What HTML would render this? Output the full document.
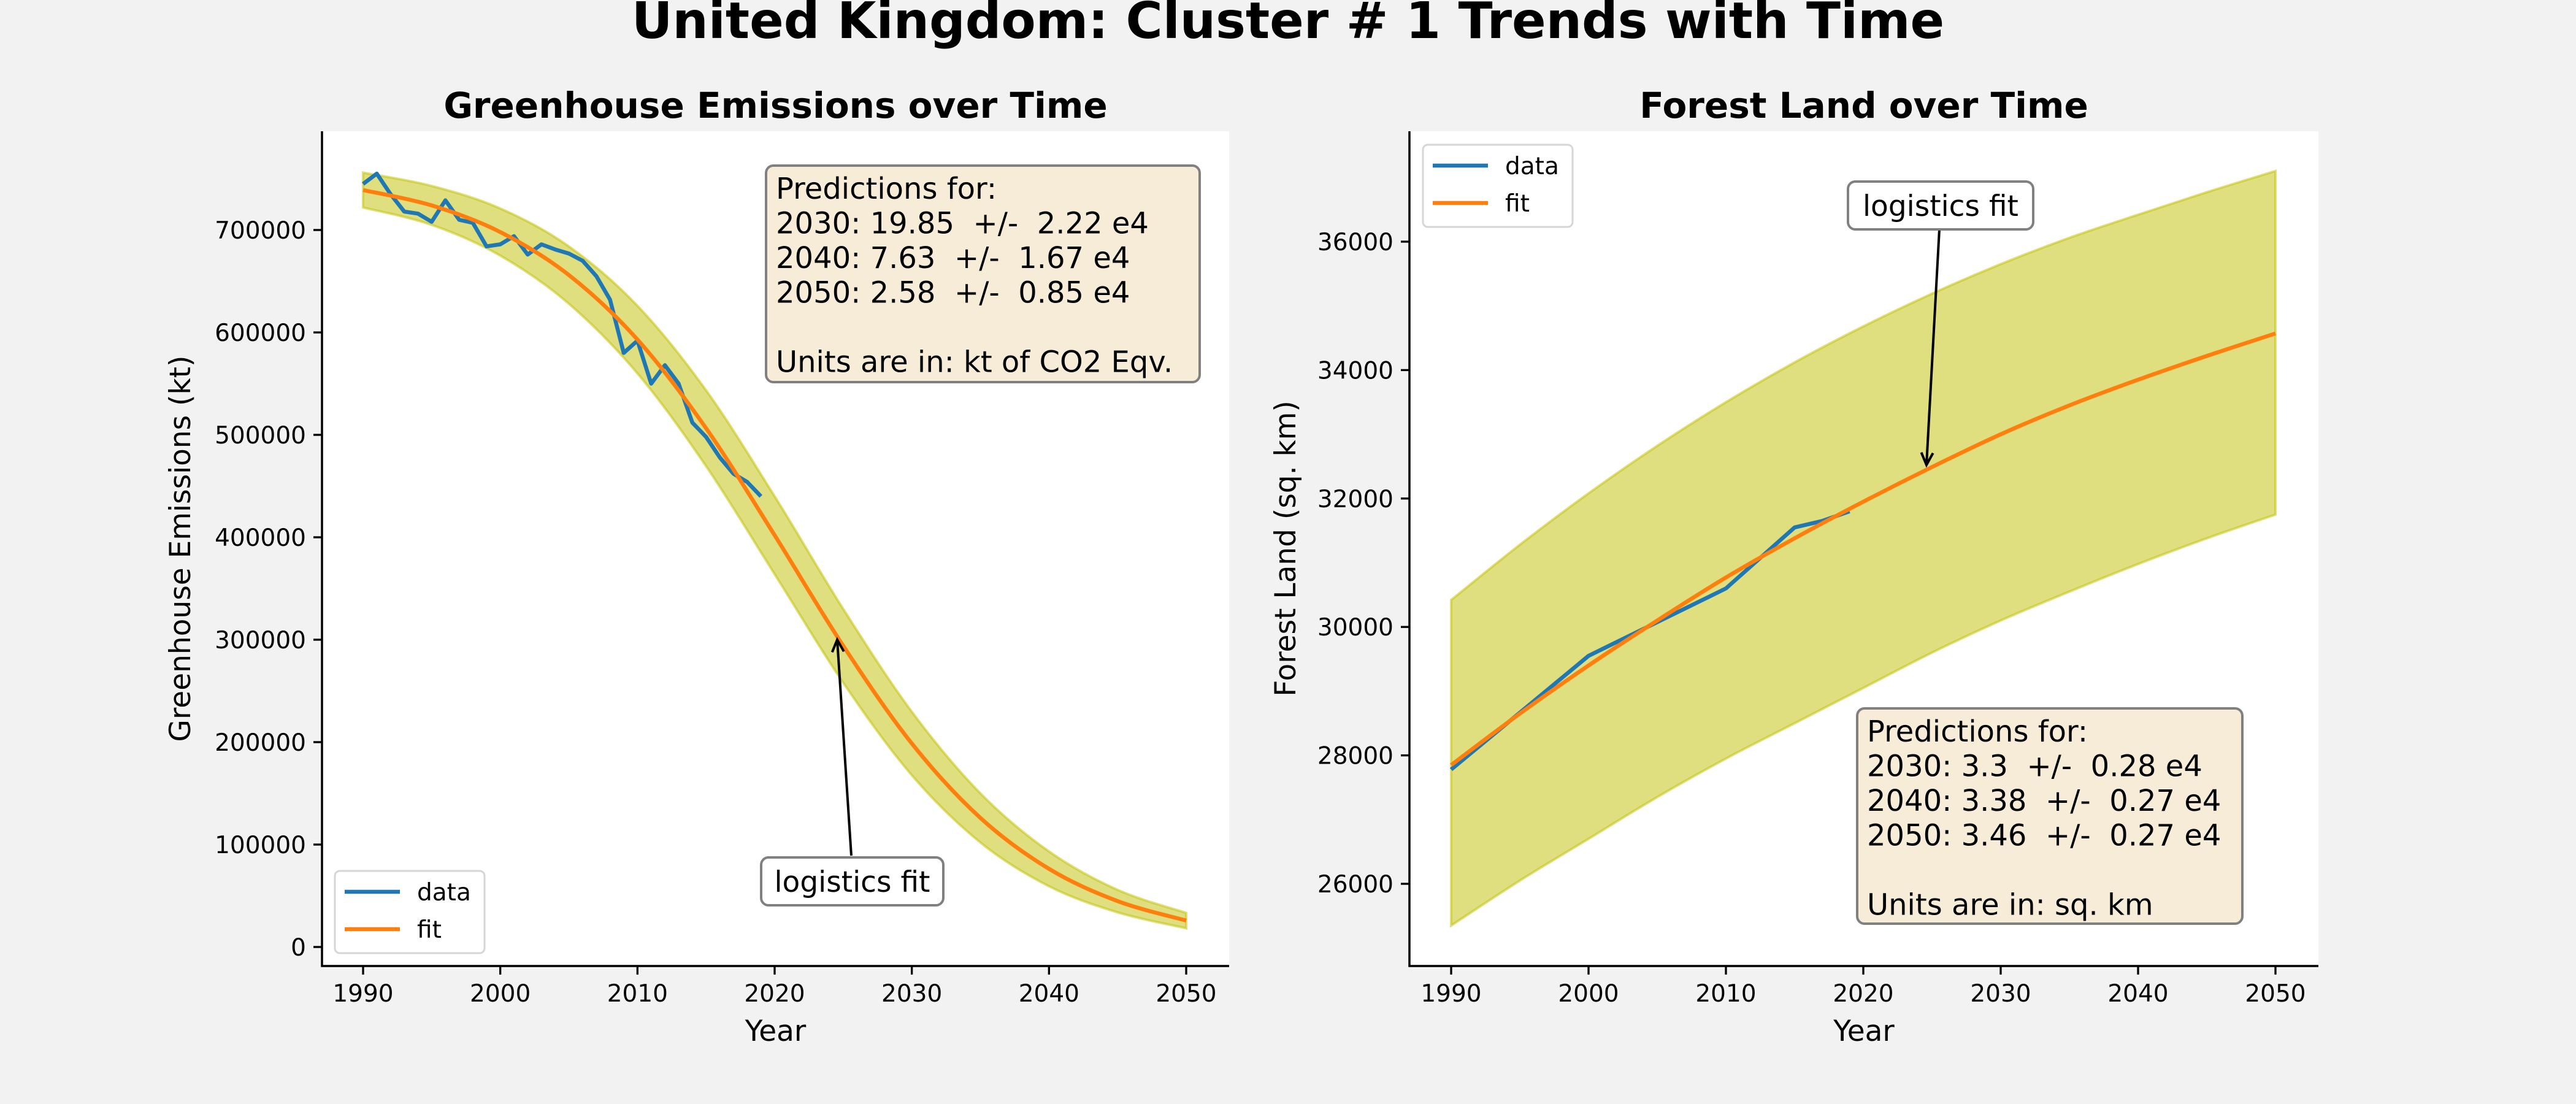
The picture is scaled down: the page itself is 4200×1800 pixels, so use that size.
<!DOCTYPE html>
<html><head><meta charset="utf-8"><style>
html,body{margin:0;padding:0;background:#f2f2f2;}
svg{display:block;font-family:"DejaVu Sans","Liberation Sans",sans-serif;}
.pre{white-space:pre;}
</style></head><body>
<svg id="fig" width="4200" height="1800" viewBox="0 0 4200 1800" xmlns="http://www.w3.org/2000/svg">
<rect x="0" y="0" width="4200" height="1800" fill="#f2f2f2"/>
<text x="2100" y="62" text-anchor="middle" font-size="82" font-weight="bold">United Kingdom: Cluster # 1 Trends with Time</text>
<g id="left"></g>
<g id="right"></g>
</svg>
<script>
// ---- Greenhouse data ----
const ghYears = [1990,1991,1992,1993,1994,1995,1996,1997,1998,1999,2000,2001,2002,2003,2004,2005,2006,2007,2008,2009,2010,2011,2012,2013,2014,2015,2016,2017,2018,2019];
const ghValues = [745000,755000,735000,718000,716000,708000,729000,710000,707000,684000,686000,694000,676000,686000,681000,677000,670000,655000,632000,580000,592000,550000,568000,550000,512000,498000,478000,462000,454000,440000];
const ghFitYears = [1990,1995,2000,2005,2010,2015,2020,2025,2030,2035,2040,2045,2050];
const ghFit = [739000,724000,698000,656000,593000,506500,402000,294000,198700,126000,76300,44800,25800];
const ghErr = [17000,19000,23000,28000,33000,37000,38000,36000,31000,24000,17000,11000,7500];
const ghYTicks = [0,100000,200000,300000,400000,500000,600000,700000];
const ghXTicks = [1990,2000,2010,2020,2030,2040,2050];
// ---- Forest data ----
const fYears = [1990,2000,2010,2015,2017,2019];
const fValues = [27780,29550,30600,31550,31650,31800];
const fFitYears = [1990,1995,2000,2005,2010,2015,2020,2025,2030,2035,2040,2045,2050];
const fFit = [27850,28650,29400,30100,30770,31380,31950,32490,33000,33450,33850,34220,34570];
const fUpper = [30420,31280,32080,32820,33500,34120,34680,35190,35650,36060,36420,36770,37100];
const fLower = [25350,26050,26700,27350,27950,28500,29050,29600,30100,30550,30980,31380,31750];
const fYTicks = [26000,28000,30000,32000,34000,36000];
const fXTicks = [1990,2000,2010,2020,2030,2040,2050];

const NS = "http://www.w3.org/2000/svg";
function mk(parent, tag, attrs, text){
  const e = document.createElementNS(NS, tag);
  for (const k in attrs) e.setAttribute(k, attrs[k]);
  if (text !== undefined) e.textContent = text;
  parent.appendChild(e);
  return e;
}
function smooth(pts){
  let d = "M" + pts[0][0] + "," + pts[0][1];
  for (let i=0;i<pts.length-1;i++){
    const p0 = pts[i-1]||pts[i], p1=pts[i], p2=pts[i+1], p3=pts[i+2]||pts[i+1];
    const c1x=p1[0]+(p2[0]-p0[0])/6, c1y=p1[1]+(p2[1]-p0[1])/6;
    const c2x=p2[0]-(p3[0]-p1[0])/6, c2y=p2[1]-(p3[1]-p1[1])/6;
    d += " C"+c1x+","+c1y+" "+c2x+","+c2y+" "+p2[0]+","+p2[1];
  }
  return d;
}
function smoothRev(pts){ return smooth(pts.slice().reverse()).replace(/^M/,"L"); }

function drawChart(g, cfg){
  const {L,R,T,B,x0,x1,px0,px1,y0,y1,py0,py1} = cfg;
  const sx = v => px0 + (v-x0)*(px1-px0)/(x1-x0);
  const sy = v => py0 + (v-y0)*(py1-py0)/(y1-y0);
  const bg = mk(g,"rect",{x:L,y:T,width:R-L,height:B-T,fill:"#ffffff"});
  
  
  const up = cfg.fitYears.map((yr,i)=>[sx(yr),sy(cfg.upper[i])]);
  const lo = cfg.fitYears.map((yr,i)=>[sx(yr),sy(cfg.lower[i])]);
  const band = mk(g,"path",{d:smooth(up)+" "+smoothRev(lo)+" Z",fill:"#bfbf00","fill-opacity":"0.5",stroke:"#bfbf00","stroke-opacity":"0.5","stroke-width":"4"});
  
  
  const dl = mk(g,"polyline",{points:cfg.years.map((yr,i)=>sx(yr)+","+sy(cfg.values[i])).join(" "),fill:"none",stroke:"#1f77b4","stroke-width":"6.5","stroke-linejoin":"round"});
  
  
  const fl = mk(g,"path",{d:smooth(cfg.fitYears.map((yr,i)=>[sx(yr),sy(cfg.fit[i])])),fill:"none",stroke:"#ff7f0e","stroke-width":"6.5"});
  
  
  const sp1 = mk(g,"line",{x1:L,y1:T,x2:L,y2:B+1.5,stroke:"#000","stroke-width":"3.5"});
  
  
  const sp2 = mk(g,"line",{x1:L-1.5,y1:B,x2:R,y2:B,stroke:"#000","stroke-width":"3.5"});
  
  
  cfg.xticks.forEach(t=>{
    const tk = mk(g,"line",{x1:sx(t),y1:B,x2:sx(t),y2:B+14,stroke:"#000","stroke-width":"3.3"});
    
    
    const tl = mk(g,"text",{x:sx(t),y:B+58,"text-anchor":"middle","font-size":"39"},String(t));
    
    
  });
  cfg.yticks.forEach(t=>{
    const tk = mk(g,"line",{x1:L-14,y1:sy(t),x2:L,y2:sy(t),stroke:"#000","stroke-width":"3.3"});
    
    
    const tl = mk(g,"text",{x:L-26,y:sy(t)+14,"text-anchor":"end","font-size":"39"},String(t));
    
    
  });
  const ttl = mk(g,"text",{x:(L+R)/2,y:T-22,"text-anchor":"middle","font-size":"58","font-weight":"bold"},cfg.title);
  
  
  const xl = mk(g,"text",{x:(L+R)/2,y:B+122,"text-anchor":"middle","font-size":"47"},"Year");
  
  
  const yl = mk(g,"text",{x:0,y:0,"text-anchor":"middle","font-size":"47",transform:"translate("+cfg.ylabX+","+((T+B)/2)+") rotate(-90)"},cfg.ylabel);
  
  
  const lg = mk(g,"g",{});
  
  
  const lx=cfg.leg[0], ly=cfg.leg[1];
  mk(lg,"rect",{x:lx,y:ly,width:244,height:134,rx:8,fill:"#fff","fill-opacity":"0.8",stroke:"#d6d6d6","stroke-width":"3"});
  const e1 = mk(lg,"line",{x1:lx+16,y1:ly+34,x2:lx+106,y2:ly+34,stroke:"#1f77b4","stroke-width":"6.5"});
  
  
  mk(lg,"text",{x:lx+134,y:ly+48,"font-size":"39"},"data");
  const e2 = mk(lg,"line",{x1:lx+16,y1:ly+95,x2:lx+106,y2:ly+95,stroke:"#ff7f0e","stroke-width":"6.5"});
  
  
  mk(lg,"text",{x:lx+134,y:ly+109,"font-size":"39"},"fit");
  const pb = mk(g,"g",{});
  
  
  const p = cfg.pred;
  mk(pb,"rect",{x:p.x,y:p.y,width:p.w,height:p.h,rx:12,fill:"#f7ecd8",stroke:"#808080","stroke-width":"4"});
  p.lines.forEach((s,i)=>{ if(s) mk(pb,"text",{x:p.x+16,y:p.y+54+i*56.5,"font-size":"48","class":"pre"},s); });
  const an = mk(g,"g",{});
  
  
  const a = cfg.ann;
  mk(an,"line",{x1:a.fx,y1:a.fy,x2:a.tx,y2:a.ty,stroke:"#000","stroke-width":"4"});
  const ang = Math.atan2(a.ty-a.fy,a.tx-a.fx);
  const h=22, s=0.45;
  mk(an,"polyline",{points:(a.tx-h*Math.cos(ang-s))+","+(a.ty-h*Math.sin(ang-s))+" "+a.tx+","+a.ty+" "+(a.tx-h*Math.cos(ang+s))+","+(a.ty-h*Math.sin(ang+s)),fill:"none",stroke:"#000","stroke-width":"4"});
  mk(an,"rect",{x:a.bx,y:a.by,width:a.bw,height:78,rx:12,fill:"#fff",stroke:"#808080","stroke-width":"4"});
  mk(an,"text",{x:a.bx+a.bw/2,y:a.by+56,"text-anchor":"middle","font-size":"47"},"logistics fit");
}

drawChart(document.getElementById("left"),{
  L:525,R:2004,T:214,B:1575,x0:1990,x1:2050,px0:592,px1:1934,y0:0,y1:700000,py0:1544,py1:375,
  years:ghYears,values:ghValues,fitYears:ghFitYears,fit:ghFit,
  upper:ghFit.map((v,i)=>v+ghErr[i]),lower:ghFit.map((v,i)=>v-ghErr[i]),
  xticks:ghXTicks,yticks:ghYTicks,title:"Greenhouse Emissions over Time",
  ylabel:"Greenhouse Emissions (kt)",ylabX:310,leg:[546,1420],
  pred:{x:1249,y:270,w:707,h:353,lines:["Predictions for:","2030: 19.85  +/-  2.22 e4","2040: 7.63  +/-  1.67 e4","2050: 2.58  +/-  0.85 e4","","Units are in: kt of CO2 Eqv."]},
  ann:{fx:1388,fy:1395,tx:1365,ty:1043,bx:1241,by:1398,bw:297}
});
drawChart(document.getElementById("right"),{
  L:2298,R:3780,T:214,B:1575,x0:1990,x1:2050,px0:2366,px1:3710,y0:26000,y1:36000,py0:1441,py1:394,
  years:fYears,values:fValues,fitYears:fFitYears,fit:fFit,upper:fUpper,lower:fLower,
  xticks:fXTicks,yticks:fYTicks,title:"Forest Land over Time",
  ylabel:"Forest Land (sq. km)",ylabX:2112,leg:[2320,236],
  pred:{x:3028,y:1155,w:628,h:351,lines:["Predictions for:","2030: 3.3  +/-  0.28 e4","2040: 3.38  +/-  0.27 e4","2050: 3.46  +/-  0.27 e4","","Units are in: sq. km"]},
  ann:{fx:3162,fy:374,tx:3141,ty:758,bx:3013,by:296,bw:302}
});
</script>
</body></html>
